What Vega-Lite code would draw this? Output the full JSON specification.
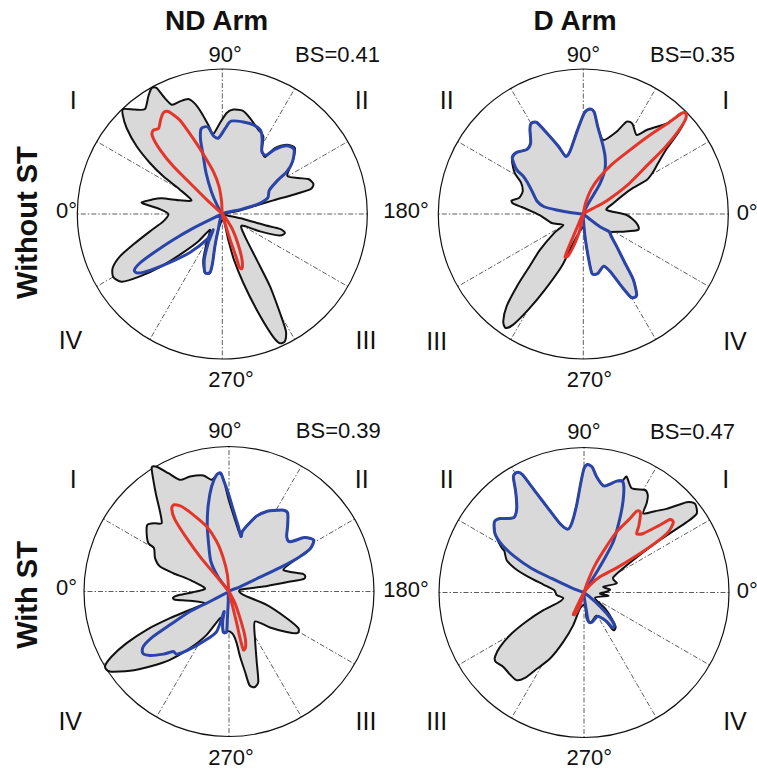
{
"$schema": "https://vega.github.io/schema/vega-lite/v6.json",
"padding": 0,
"spacing": 0,
"config": {"view": {"stroke": null}, "text": {"font": "Liberation Sans"}},
"datasets": {
"spokes": [
{"x":0,"y":0,"ex":1,"ey":0},{"x":0,"y":0,"ex":0.866,"ey":0.5},{"x":0,"y":0,"ex":0.5,"ey":0.866},{"x":0,"y":0,"ex":0,"ey":1},
{"x":0,"y":0,"ex":-0.5,"ey":0.866},{"x":0,"y":0,"ex":-0.866,"ey":0.5},{"x":0,"y":0,"ex":-1,"ey":0},{"x":0,"y":0,"ex":-0.866,"ey":-0.5},
{"x":0,"y":0,"ex":-0.5,"ey":-0.866},{"x":0,"y":0,"ex":0,"ey":-1},{"x":0,"y":0,"ex":0.5,"ey":-0.866},{"x":0,"y":0,"ex":0.866,"ey":-0.5}
],
"ctr": [{"x":0,"y":0}],
"labels": [
{"p":1,"k":"deg","t":"90°","x":0.019,"y":1.046},
{"p":1,"k":"deg","t":"BS=0.41","x":0.795,"y":1.046},
{"p":1,"k":"rom","t":"I","x":-1.028,"y":0.722},
{"p":1,"k":"rom","t":"II","x":0.961,"y":0.722},
{"p":1,"k":"rom","t":"IV","x":-1.047,"y":-0.933},
{"p":1,"k":"rom","t":"III","x":0.991,"y":-0.933},
{"p":1,"k":"deg","t":"0°","x":-1.075,"y":-0.030},
{"p":1,"k":"deg","t":"270°","x":0.060,"y":-1.195},
{"p":1,"k":"title","t":"ND Arm","x":-0.039,"y":1.269},
{"p":1,"k":"rtitle","t":"Without ST","x":-1.280,"y":-0.059},
{"p":2,"k":"deg","t":"90°","x":0.0,"y":1.046},
{"p":2,"k":"deg","t":"BS=0.35","x":0.753,"y":1.046},
{"p":2,"k":"rom","t":"II","x":-0.942,"y":0.722},
{"p":2,"k":"rom","t":"I","x":0.982,"y":0.722},
{"p":2,"k":"rom","t":"III","x":-1.011,"y":-0.938},
{"p":2,"k":"rom","t":"IV","x":1.046,"y":-0.938},
{"p":2,"k":"deg","t":"0°","x":1.130,"y":-0.040},
{"p":2,"k":"deg","t":"180°","x":-1.223,"y":-0.030},
{"p":2,"k":"deg","t":"270°","x":0.042,"y":-1.195},
{"p":2,"k":"title","t":"D Arm","x":-0.057,"y":1.269},
{"p":3,"k":"deg","t":"90°","x":-0.028,"y":1.057},
{"p":3,"k":"deg","t":"BS=0.39","x":0.754,"y":1.057},
{"p":3,"k":"rom","t":"I","x":-1.074,"y":0.712},
{"p":3,"k":"rom","t":"II","x":0.915,"y":0.712},
{"p":3,"k":"rom","t":"IV","x":-1.095,"y":-0.955},
{"p":3,"k":"rom","t":"III","x":0.945,"y":-0.955},
{"p":3,"k":"deg","t":"0°","x":-1.121,"y":-0.024},
{"p":3,"k":"deg","t":"270°","x":0.014,"y":-1.197},
{"p":3,"k":"rtitle","t":"With ST","x":-1.326,"y":-0.024},
{"p":4,"k":"deg","t":"90°","x":0.0,"y":1.057},
{"p":4,"k":"deg","t":"BS=0.47","x":0.748,"y":1.057},
{"p":4,"k":"rom","t":"II","x":-0.947,"y":0.719},
{"p":4,"k":"rom","t":"I","x":0.977,"y":0.719},
{"p":4,"k":"rom","t":"III","x":-1.016,"y":-0.948},
{"p":4,"k":"rom","t":"IV","x":1.041,"y":-0.948},
{"p":4,"k":"deg","t":"0°","x":1.126,"y":-0.036},
{"p":4,"k":"deg","t":"180°","x":-1.228,"y":-0.029},
{"p":4,"k":"deg","t":"270°","x":0.037,"y":-1.190}
],
"curves": [
{"p":1,"s":"g","i":1,"x":-0.556,"y":0.080},{"p":1,"s":"g","i":2,"x":-0.487,"y":0.099},{"p":1,"s":"g","i":3,"x":-0.418,"y":0.108},{"p":1,"s":"g","i":4,"x":-0.292,"y":0.094},{"p":1,"s":"g","i":5,"x":-0.212,"y":0.094},
{"p":1,"s":"g","i":6,"x":-0.292,"y":0.168},{"p":1,"s":"g","i":7,"x":-0.407,"y":0.260},{"p":1,"s":"g","i":8,"x":-0.499,"y":0.352},{"p":1,"s":"g","i":9,"x":-0.591,"y":0.467},{"p":1,"s":"g","i":10,"x":-0.660,"y":0.593},
{"p":1,"s":"g","i":11,"x":-0.687,"y":0.685},{"p":1,"s":"g","i":12,"x":-0.683,"y":0.724},{"p":1,"s":"g","i":13,"x":-0.602,"y":0.720},{"p":1,"s":"g","i":14,"x":-0.533,"y":0.724},{"p":1,"s":"g","i":15,"x":-0.510,"y":0.812},
{"p":1,"s":"g","i":16,"x":-0.487,"y":0.869},{"p":1,"s":"g","i":17,"x":-0.453,"y":0.869},{"p":1,"s":"g","i":18,"x":-0.407,"y":0.812},{"p":1,"s":"g","i":19,"x":-0.349,"y":0.754},{"p":1,"s":"g","i":20,"x":-0.292,"y":0.777},
{"p":1,"s":"g","i":21,"x":-0.235,"y":0.793},{"p":1,"s":"g","i":22,"x":-0.189,"y":0.761},{"p":1,"s":"g","i":23,"x":-0.143,"y":0.697},{"p":1,"s":"g","i":24,"x":-0.097,"y":0.616},{"p":1,"s":"g","i":25,"x":-0.062,"y":0.554},
{"p":1,"s":"g","i":26,"x":-0.016,"y":0.628},{"p":1,"s":"g","i":27,"x":0.030,"y":0.697},{"p":1,"s":"g","i":28,"x":0.076,"y":0.720},{"p":1,"s":"g","i":29,"x":0.140,"y":0.713},{"p":1,"s":"g","i":30,"x":0.191,"y":0.662},
{"p":1,"s":"g","i":31,"x":0.248,"y":0.582},{"p":1,"s":"g","i":32,"x":0.283,"y":0.536},{"p":1,"s":"g","i":33,"x":0.274,"y":0.444},{"p":1,"s":"g","i":34,"x":0.294,"y":0.393},{"p":1,"s":"g","i":35,"x":0.363,"y":0.455},
{"p":1,"s":"g","i":36,"x":0.444,"y":0.478},{"p":1,"s":"g","i":37,"x":0.501,"y":0.455},{"p":1,"s":"g","i":38,"x":0.485,"y":0.363},{"p":1,"s":"g","i":39,"x":0.448,"y":0.264},{"p":1,"s":"g","i":40,"x":0.524,"y":0.248},
{"p":1,"s":"g","i":41,"x":0.593,"y":0.241},{"p":1,"s":"g","i":42,"x":0.628,"y":0.209},{"p":1,"s":"g","i":43,"x":0.609,"y":0.172},{"p":1,"s":"g","i":44,"x":0.490,"y":0.133},{"p":1,"s":"g","i":45,"x":0.352,"y":0.094},
{"p":1,"s":"g","i":46,"x":0.214,"y":0.053},{"p":1,"s":"g","i":47,"x":0.099,"y":0.018},{"p":1,"s":"g","i":48,"x":0,"y":0},{"p":1,"s":"g","i":49,"x":0.145,"y":-0.034},{"p":1,"s":"g","i":50,"x":0.283,"y":-0.074},
{"p":1,"s":"g","i":51,"x":0.398,"y":-0.103},{"p":1,"s":"g","i":52,"x":0.432,"y":-0.131},{"p":1,"s":"g","i":53,"x":0.393,"y":-0.149},{"p":1,"s":"g","i":54,"x":0.260,"y":-0.120},{"p":1,"s":"g","i":55,"x":0.133,"y":-0.080},
{"p":1,"s":"g","i":56,"x":0.156,"y":-0.154},{"p":1,"s":"g","i":57,"x":0.237,"y":-0.315},{"p":1,"s":"g","i":58,"x":0.329,"y":-0.499},{"p":1,"s":"g","i":59,"x":0.398,"y":-0.683},{"p":1,"s":"g","i":60,"x":0.439,"y":-0.809},
{"p":1,"s":"g","i":61,"x":0.432,"y":-0.878},{"p":1,"s":"g","i":62,"x":0.393,"y":-0.890},{"p":1,"s":"g","i":63,"x":0.340,"y":-0.832},{"p":1,"s":"g","i":64,"x":0.237,"y":-0.660},{"p":1,"s":"g","i":65,"x":0.145,"y":-0.476},
{"p":1,"s":"g","i":66,"x":0.080,"y":-0.315},{"p":1,"s":"g","i":67,"x":0.041,"y":-0.177},{"p":1,"s":"g","i":68,"x":0.007,"y":-0.039},{"p":1,"s":"g","i":69,"x":-0.028,"y":-0.108},{"p":1,"s":"g","i":70,"x":-0.051,"y":-0.223},
{"p":1,"s":"g","i":71,"x":-0.067,"y":-0.338},{"p":1,"s":"g","i":72,"x":-0.085,"y":-0.407},{"p":1,"s":"g","i":73,"x":-0.122,"y":-0.402},{"p":1,"s":"g","i":74,"x":-0.131,"y":-0.315},{"p":1,"s":"g","i":75,"x":-0.108,"y":-0.200},
{"p":1,"s":"g","i":76,"x":-0.085,"y":-0.108},{"p":1,"s":"g","i":77,"x":-0.166,"y":-0.189},{"p":1,"s":"g","i":78,"x":-0.292,"y":-0.280},{"p":1,"s":"g","i":79,"x":-0.430,"y":-0.366},{"p":1,"s":"g","i":80,"x":-0.568,"y":-0.430},
{"p":1,"s":"g","i":81,"x":-0.694,"y":-0.467},{"p":1,"s":"g","i":82,"x":-0.752,"y":-0.434},{"p":1,"s":"g","i":83,"x":-0.756,"y":-0.372},{"p":1,"s":"g","i":84,"x":-0.706,"y":-0.292},{"p":1,"s":"g","i":85,"x":-0.614,"y":-0.211},
{"p":1,"s":"g","i":86,"x":-0.499,"y":-0.120},{"p":1,"s":"g","i":87,"x":-0.407,"y":-0.051},{"p":1,"s":"g","i":88,"x":-0.372,"y":0.000},{"p":1,"s":"g","i":89,"x":-0.430,"y":0.034},{"p":1,"s":"g","i":90,"x":-0.522,"y":0.064},

{"p":1,"s":"b","i":1,"x":0,"y":0},{"p":1,"s":"b","i":2,"x":-0.062,"y":-0.028},{"p":1,"s":"b","i":3,"x":-0.200,"y":-0.097},{"p":1,"s":"b","i":4,"x":-0.338,"y":-0.177},{"p":1,"s":"b","i":5,"x":-0.476,"y":-0.269},
{"p":1,"s":"b","i":6,"x":-0.568,"y":-0.338},{"p":1,"s":"b","i":7,"x":-0.607,"y":-0.389},{"p":1,"s":"b","i":8,"x":-0.580,"y":-0.407},{"p":1,"s":"b","i":9,"x":-0.499,"y":-0.389},{"p":1,"s":"b","i":10,"x":-0.361,"y":-0.334},
{"p":1,"s":"b","i":11,"x":-0.223,"y":-0.265},{"p":1,"s":"b","i":12,"x":-0.108,"y":-0.177},{"p":1,"s":"b","i":13,"x":-0.062,"y":-0.108},{"p":1,"s":"b","i":14,"x":-0.097,"y":-0.200},{"p":1,"s":"b","i":15,"x":-0.124,"y":-0.315},
{"p":1,"s":"b","i":16,"x":-0.120,"y":-0.403},{"p":1,"s":"b","i":17,"x":-0.085,"y":-0.403},{"p":1,"s":"b","i":18,"x":-0.067,"y":-0.338},{"p":1,"s":"b","i":19,"x":-0.051,"y":-0.223},{"p":1,"s":"b","i":20,"x":-0.028,"y":-0.108},
{"p":1,"s":"b","i":21,"x":0,"y":0},{"p":1,"s":"b","i":22,"x":0.122,"y":0.030},{"p":1,"s":"b","i":23,"x":0.237,"y":0.064},{"p":1,"s":"b","i":24,"x":0.313,"y":0.110},{"p":1,"s":"b","i":25,"x":0.324,"y":0.163},
{"p":1,"s":"b","i":26,"x":0.380,"y":0.230},{"p":1,"s":"b","i":27,"x":0.445,"y":0.292},{"p":1,"s":"b","i":28,"x":0.485,"y":0.363},{"p":1,"s":"b","i":29,"x":0.495,"y":0.445},{"p":1,"s":"b","i":30,"x":0.444,"y":0.470},
{"p":1,"s":"b","i":31,"x":0.363,"y":0.445},{"p":1,"s":"b","i":32,"x":0.300,"y":0.405},{"p":1,"s":"b","i":33,"x":0.272,"y":0.432},{"p":1,"s":"b","i":34,"x":0.275,"y":0.513},{"p":1,"s":"b","i":35,"x":0.265,"y":0.575},
{"p":1,"s":"b","i":36,"x":0.215,"y":0.615},{"p":1,"s":"b","i":37,"x":0.145,"y":0.635},{"p":1,"s":"b","i":38,"x":0.060,"y":0.640},{"p":1,"s":"b","i":39,"x":0.020,"y":0.590},{"p":1,"s":"b","i":40,"x":-0.025,"y":0.525},
{"p":1,"s":"b","i":41,"x":-0.062,"y":0.540},{"p":1,"s":"b","i":42,"x":-0.100,"y":0.600},{"p":1,"s":"b","i":43,"x":-0.145,"y":0.590},{"p":1,"s":"b","i":44,"x":-0.150,"y":0.513},{"p":1,"s":"b","i":45,"x":-0.131,"y":0.398},
{"p":1,"s":"b","i":46,"x":-0.112,"y":0.283},{"p":1,"s":"b","i":47,"x":-0.074,"y":0.150},{"p":1,"s":"b","i":48,"x":-0.035,"y":0.060},{"p":1,"s":"b","i":49,"x":0,"y":0},

{"p":1,"s":"r","i":1,"x":0,"y":0},{"p":1,"s":"r","i":2,"x":-0.108,"y":0.099},{"p":1,"s":"r","i":3,"x":-0.223,"y":0.214},{"p":1,"s":"r","i":4,"x":-0.338,"y":0.329},{"p":1,"s":"r","i":5,"x":-0.430,"y":0.444},
{"p":1,"s":"r","i":6,"x":-0.483,"y":0.540},{"p":1,"s":"r","i":7,"x":-0.476,"y":0.577},{"p":1,"s":"r","i":8,"x":-0.439,"y":0.591},{"p":1,"s":"r","i":9,"x":-0.425,"y":0.651},{"p":1,"s":"r","i":10,"x":-0.407,"y":0.697},
{"p":1,"s":"r","i":11,"x":-0.380,"y":0.708},{"p":1,"s":"r","i":12,"x":-0.338,"y":0.685},{"p":1,"s":"r","i":13,"x":-0.292,"y":0.646},{"p":1,"s":"r","i":14,"x":-0.235,"y":0.570},{"p":1,"s":"r","i":15,"x":-0.177,"y":0.485},
{"p":1,"s":"r","i":16,"x":-0.115,"y":0.386},{"p":1,"s":"r","i":17,"x":-0.062,"y":0.294},{"p":1,"s":"r","i":18,"x":-0.023,"y":0.191},{"p":1,"s":"r","i":19,"x":-0.005,"y":0.087},{"p":1,"s":"r","i":20,"x":0,"y":0},
{"p":1,"s":"r","i":21,"x":0.025,"y":-0.085},{"p":1,"s":"r","i":22,"x":0.058,"y":-0.189},{"p":1,"s":"r","i":23,"x":0.094,"y":-0.292},{"p":1,"s":"r","i":24,"x":0.117,"y":-0.366},{"p":1,"s":"r","i":25,"x":0.136,"y":-0.375},
{"p":1,"s":"r","i":26,"x":0.136,"y":-0.315},{"p":1,"s":"r","i":27,"x":0.110,"y":-0.212},{"p":1,"s":"r","i":28,"x":0.071,"y":-0.108},{"p":1,"s":"r","i":29,"x":0.030,"y":-0.039},{"p":1,"s":"r","i":30,"x":0,"y":0},

{"p":2,"s":"g","i":1,"x":-0.494,"y":0.094},{"p":2,"s":"g","i":2,"x":-0.444,"y":0.110},{"p":2,"s":"g","i":3,"x":-0.418,"y":0.156},{"p":2,"s":"g","i":4,"x":-0.430,"y":0.218},{"p":2,"s":"g","i":5,"x":-0.471,"y":0.278},
{"p":2,"s":"g","i":6,"x":-0.490,"y":0.352},{"p":2,"s":"g","i":7,"x":-0.490,"y":0.386},{"p":2,"s":"g","i":8,"x":-0.460,"y":0.425},{"p":2,"s":"g","i":9,"x":-0.391,"y":0.444},{"p":2,"s":"g","i":10,"x":-0.363,"y":0.490},
{"p":2,"s":"g","i":11,"x":-0.368,"y":0.582},{"p":2,"s":"g","i":12,"x":-0.361,"y":0.623},{"p":2,"s":"g","i":13,"x":-0.322,"y":0.632},{"p":2,"s":"g","i":14,"x":-0.241,"y":0.547},{"p":2,"s":"g","i":15,"x":-0.172,"y":0.467},
{"p":2,"s":"g","i":16,"x":-0.122,"y":0.398},{"p":2,"s":"g","i":17,"x":-0.092,"y":0.432},{"p":2,"s":"g","i":18,"x":-0.039,"y":0.582},{"p":2,"s":"g","i":19,"x":0.007,"y":0.697},{"p":2,"s":"g","i":20,"x":0.046,"y":0.724},
{"p":2,"s":"g","i":21,"x":0.076,"y":0.701},{"p":2,"s":"g","i":22,"x":0.099,"y":0.605},{"p":2,"s":"g","i":23,"x":0.138,"y":0.510},{"p":2,"s":"g","i":24,"x":0.230,"y":0.568},{"p":2,"s":"g","i":25,"x":0.299,"y":0.637},
{"p":2,"s":"g","i":26,"x":0.340,"y":0.620},{"p":2,"s":"g","i":27,"x":0.368,"y":0.545},{"p":2,"s":"g","i":28,"x":0.437,"y":0.579},{"p":2,"s":"g","i":29,"x":0.517,"y":0.605},{"p":2,"s":"g","i":30,"x":0.586,"y":0.628},
{"p":2,"s":"g","i":31,"x":0.674,"y":0.692},{"p":2,"s":"g","i":32,"x":0.706,"y":0.697},{"p":2,"s":"g","i":33,"x":0.706,"y":0.655},{"p":2,"s":"g","i":34,"x":0.655,"y":0.560},{"p":2,"s":"g","i":35,"x":0.575,"y":0.450},
{"p":2,"s":"g","i":36,"x":0.515,"y":0.350},{"p":2,"s":"g","i":37,"x":0.483,"y":0.292},{"p":2,"s":"g","i":38,"x":0.437,"y":0.234},{"p":2,"s":"g","i":39,"x":0.322,"y":0.166},{"p":2,"s":"g","i":40,"x":0.207,"y":0.074},
{"p":2,"s":"g","i":41,"x":0.161,"y":0.028},{"p":2,"s":"g","i":42,"x":0.299,"y":-0.007},{"p":2,"s":"g","i":43,"x":0.368,"y":-0.064},{"p":2,"s":"g","i":44,"x":0.379,"y":-0.110},{"p":2,"s":"g","i":45,"x":0.276,"y":-0.122},
{"p":2,"s":"g","i":46,"x":0.184,"y":-0.125},{"p":2,"s":"g","i":47,"x":0.191,"y":-0.150},{"p":2,"s":"g","i":48,"x":0.230,"y":-0.223},{"p":2,"s":"g","i":49,"x":0.287,"y":-0.338},{"p":2,"s":"g","i":50,"x":0.345,"y":-0.453},
{"p":2,"s":"g","i":51,"x":0.368,"y":-0.560},{"p":2,"s":"g","i":52,"x":0.330,"y":-0.575},{"p":2,"s":"g","i":53,"x":0.264,"y":-0.499},{"p":2,"s":"g","i":54,"x":0.184,"y":-0.395},{"p":2,"s":"g","i":55,"x":0.140,"y":-0.360},
{"p":2,"s":"g","i":56,"x":0.100,"y":-0.410},{"p":2,"s":"g","i":57,"x":0.060,"y":-0.410},{"p":2,"s":"g","i":58,"x":0.035,"y":-0.300},{"p":2,"s":"g","i":59,"x":0.015,"y":-0.180},{"p":2,"s":"g","i":60,"x":0.002,"y":-0.090},
{"p":2,"s":"g","i":61,"x":-0.030,"y":-0.130},{"p":2,"s":"g","i":62,"x":-0.080,"y":-0.223},{"p":2,"s":"g","i":63,"x":-0.149,"y":-0.361},{"p":2,"s":"g","i":64,"x":-0.264,"y":-0.522},{"p":2,"s":"g","i":65,"x":-0.379,"y":-0.660},
{"p":2,"s":"g","i":66,"x":-0.483,"y":-0.763},{"p":2,"s":"g","i":67,"x":-0.536,"y":-0.786},{"p":2,"s":"g","i":68,"x":-0.552,"y":-0.740},{"p":2,"s":"g","i":69,"x":-0.529,"y":-0.637},{"p":2,"s":"g","i":70,"x":-0.459,"y":-0.501},
{"p":2,"s":"g","i":71,"x":-0.370,"y":-0.360},{"p":2,"s":"g","i":72,"x":-0.299,"y":-0.248},{"p":2,"s":"g","i":73,"x":-0.200,"y":-0.130},{"p":2,"s":"g","i":74,"x":-0.138,"y":-0.076},{"p":2,"s":"g","i":75,"x":-0.218,"y":-0.062},
{"p":2,"s":"g","i":76,"x":-0.287,"y":-0.016},{"p":2,"s":"g","i":77,"x":-0.356,"y":0.018},{"p":2,"s":"g","i":78,"x":-0.425,"y":0.048},{"p":2,"s":"g","i":79,"x":-0.483,"y":0.071},

{"p":2,"s":"b","i":1,"x":0,"y":0},{"p":2,"s":"b","i":2,"x":-0.080,"y":0.009},{"p":2,"s":"b","i":3,"x":-0.183,"y":0.028},{"p":2,"s":"b","i":4,"x":-0.270,"y":0.050},{"p":2,"s":"b","i":5,"x":-0.320,"y":0.090},
{"p":2,"s":"b","i":6,"x":-0.350,"y":0.150},{"p":2,"s":"b","i":7,"x":-0.384,"y":0.215},{"p":2,"s":"b","i":8,"x":-0.414,"y":0.260},{"p":2,"s":"b","i":9,"x":-0.460,"y":0.306},{"p":2,"s":"b","i":10,"x":-0.490,"y":0.386},
{"p":2,"s":"b","i":11,"x":-0.460,"y":0.425},{"p":2,"s":"b","i":12,"x":-0.391,"y":0.444},{"p":2,"s":"b","i":13,"x":-0.363,"y":0.490},{"p":2,"s":"b","i":14,"x":-0.368,"y":0.582},{"p":2,"s":"b","i":15,"x":-0.361,"y":0.623},
{"p":2,"s":"b","i":16,"x":-0.322,"y":0.632},{"p":2,"s":"b","i":17,"x":-0.241,"y":0.547},{"p":2,"s":"b","i":18,"x":-0.172,"y":0.467},{"p":2,"s":"b","i":19,"x":-0.122,"y":0.398},{"p":2,"s":"b","i":20,"x":-0.092,"y":0.432},
{"p":2,"s":"b","i":21,"x":-0.039,"y":0.582},{"p":2,"s":"b","i":22,"x":0.007,"y":0.697},{"p":2,"s":"b","i":23,"x":0.046,"y":0.724},{"p":2,"s":"b","i":24,"x":0.076,"y":0.701},{"p":2,"s":"b","i":25,"x":0.099,"y":0.605},
{"p":2,"s":"b","i":26,"x":0.131,"y":0.490},{"p":2,"s":"b","i":27,"x":0.150,"y":0.398},{"p":2,"s":"b","i":28,"x":0.149,"y":0.306},{"p":2,"s":"b","i":29,"x":0.115,"y":0.210},{"p":2,"s":"b","i":30,"x":0.069,"y":0.130},
{"p":2,"s":"b","i":31,"x":0.025,"y":0.055},{"p":2,"s":"b","i":32,"x":0,"y":0},{"p":2,"s":"b","i":33,"x":0.005,"y":-0.090},{"p":2,"s":"b","i":34,"x":0.015,"y":-0.180},{"p":2,"s":"b","i":35,"x":0.035,"y":-0.300},
{"p":2,"s":"b","i":36,"x":0.060,"y":-0.410},{"p":2,"s":"b","i":37,"x":0.100,"y":-0.410},{"p":2,"s":"b","i":38,"x":0.140,"y":-0.360},{"p":2,"s":"b","i":39,"x":0.184,"y":-0.395},{"p":2,"s":"b","i":40,"x":0.264,"y":-0.499},
{"p":2,"s":"b","i":41,"x":0.330,"y":-0.575},{"p":2,"s":"b","i":42,"x":0.368,"y":-0.560},{"p":2,"s":"b","i":43,"x":0.345,"y":-0.453},{"p":2,"s":"b","i":44,"x":0.287,"y":-0.338},{"p":2,"s":"b","i":45,"x":0.230,"y":-0.223},
{"p":2,"s":"b","i":46,"x":0.191,"y":-0.150},{"p":2,"s":"b","i":47,"x":0.184,"y":-0.125},{"p":2,"s":"b","i":48,"x":0.115,"y":-0.088},{"p":2,"s":"b","i":49,"x":0.050,"y":-0.040},{"p":2,"s":"b","i":50,"x":0,"y":0},

{"p":2,"s":"r","i":1,"x":0,"y":0},{"p":2,"s":"r","i":2,"x":0.016,"y":0.076},{"p":2,"s":"r","i":3,"x":0.053,"y":0.168},{"p":2,"s":"r","i":4,"x":0.108,"y":0.248},{"p":2,"s":"r","i":5,"x":0.195,"y":0.340},
{"p":2,"s":"r","i":6,"x":0.310,"y":0.432},{"p":2,"s":"r","i":7,"x":0.448,"y":0.536},{"p":2,"s":"r","i":8,"x":0.586,"y":0.628},{"p":2,"s":"r","i":9,"x":0.674,"y":0.692},{"p":2,"s":"r","i":10,"x":0.706,"y":0.697},
{"p":2,"s":"r","i":11,"x":0.706,"y":0.655},{"p":2,"s":"r","i":12,"x":0.650,"y":0.565},{"p":2,"s":"r","i":13,"x":0.560,"y":0.455},{"p":2,"s":"r","i":14,"x":0.440,"y":0.335},{"p":2,"s":"r","i":15,"x":0.300,"y":0.195},
{"p":2,"s":"r","i":16,"x":0.160,"y":0.090},{"p":2,"s":"r","i":17,"x":0.060,"y":0.035},{"p":2,"s":"r","i":18,"x":0,"y":0},{"p":2,"s":"r","i":19,"x":-0.030,"y":-0.062},{"p":2,"s":"r","i":20,"x":-0.069,"y":-0.154},
{"p":2,"s":"r","i":21,"x":-0.108,"y":-0.246},{"p":2,"s":"r","i":22,"x":-0.126,"y":-0.297},{"p":2,"s":"r","i":23,"x":-0.103,"y":-0.287},{"p":2,"s":"r","i":24,"x":-0.057,"y":-0.200},{"p":2,"s":"r","i":25,"x":-0.023,"y":-0.108},
{"p":2,"s":"r","i":26,"x":0,"y":0},

{"p":3,"s":"g","i":1,"x":-0.384,"y":-0.041},{"p":3,"s":"g","i":2,"x":-0.338,"y":-0.023},{"p":3,"s":"g","i":3,"x":-0.166,"y":0.018},{"p":3,"s":"g","i":4,"x":-0.269,"y":0.080},{"p":3,"s":"g","i":5,"x":-0.384,"y":0.126},
{"p":3,"s":"g","i":6,"x":-0.476,"y":0.172},{"p":3,"s":"g","i":7,"x":-0.510,"y":0.230},{"p":3,"s":"g","i":8,"x":-0.517,"y":0.299},{"p":3,"s":"g","i":9,"x":-0.556,"y":0.333},{"p":3,"s":"g","i":10,"x":-0.568,"y":0.402},
{"p":3,"s":"g","i":11,"x":-0.563,"y":0.460},{"p":3,"s":"g","i":12,"x":-0.510,"y":0.471},{"p":3,"s":"g","i":13,"x":-0.464,"y":0.471},{"p":3,"s":"g","i":14,"x":-0.476,"y":0.552},{"p":3,"s":"g","i":15,"x":-0.503,"y":0.667},
{"p":3,"s":"g","i":16,"x":-0.522,"y":0.770},{"p":3,"s":"g","i":17,"x":-0.533,"y":0.855},{"p":3,"s":"g","i":18,"x":-0.499,"y":0.860},{"p":3,"s":"g","i":19,"x":-0.418,"y":0.816},{"p":3,"s":"g","i":20,"x":-0.338,"y":0.770},
{"p":3,"s":"g","i":21,"x":-0.269,"y":0.793},{"p":3,"s":"g","i":22,"x":-0.177,"y":0.800},{"p":3,"s":"g","i":23,"x":-0.120,"y":0.770},{"p":3,"s":"g","i":24,"x":-0.085,"y":0.805},{"p":3,"s":"g","i":25,"x":-0.057,"y":0.816},
{"p":3,"s":"g","i":26,"x":-0.034,"y":0.759},{"p":3,"s":"g","i":27,"x":-0.005,"y":0.644},{"p":3,"s":"g","i":28,"x":0.030,"y":0.529},{"p":3,"s":"g","i":29,"x":0.064,"y":0.425},{"p":3,"s":"g","i":30,"x":0.083,"y":0.379},
{"p":3,"s":"g","i":31,"x":0.092,"y":0.414},{"p":3,"s":"g","i":32,"x":0.130,"y":0.460},{"p":3,"s":"g","i":33,"x":0.190,"y":0.520},{"p":3,"s":"g","i":34,"x":0.260,"y":0.552},{"p":3,"s":"g","i":35,"x":0.330,"y":0.560},
{"p":3,"s":"g","i":36,"x":0.378,"y":0.560},{"p":3,"s":"g","i":37,"x":0.405,"y":0.540},{"p":3,"s":"g","i":38,"x":0.405,"y":0.460},{"p":3,"s":"g","i":39,"x":0.398,"y":0.378},{"p":3,"s":"g","i":40,"x":0.421,"y":0.343},
{"p":3,"s":"g","i":41,"x":0.520,"y":0.372},{"p":3,"s":"g","i":42,"x":0.584,"y":0.355},{"p":3,"s":"g","i":43,"x":0.560,"y":0.295},{"p":3,"s":"g","i":44,"x":0.480,"y":0.235},{"p":3,"s":"g","i":45,"x":0.375,"y":0.149},
{"p":3,"s":"g","i":46,"x":0.513,"y":0.120},{"p":3,"s":"g","i":47,"x":0.517,"y":0.087},{"p":3,"s":"g","i":48,"x":0.398,"y":0.064},{"p":3,"s":"g","i":49,"x":0.237,"y":0.034},{"p":3,"s":"g","i":50,"x":0.076,"y":0.011},
{"p":3,"s":"g","i":51,"x":0.099,"y":-0.023},{"p":3,"s":"g","i":52,"x":0.260,"y":-0.092},{"p":3,"s":"g","i":53,"x":0.398,"y":-0.184},{"p":3,"s":"g","i":54,"x":0.478,"y":-0.253},{"p":3,"s":"g","i":55,"x":0.471,"y":-0.287},
{"p":3,"s":"g","i":56,"x":0.398,"y":-0.280},{"p":3,"s":"g","i":57,"x":0.283,"y":-0.248},{"p":3,"s":"g","i":58,"x":0.179,"y":-0.207},{"p":3,"s":"g","i":59,"x":0.179,"y":-0.322},{"p":3,"s":"g","i":60,"x":0.191,"y":-0.483},
{"p":3,"s":"g","i":61,"x":0.202,"y":-0.621},{"p":3,"s":"g","i":62,"x":0.175,"y":-0.660},{"p":3,"s":"g","i":63,"x":0.140,"y":-0.644},{"p":3,"s":"g","i":64,"x":0.110,"y":-0.552},{"p":3,"s":"g","i":65,"x":0.076,"y":-0.448},
{"p":3,"s":"g","i":66,"x":0.053,"y":-0.356},{"p":3,"s":"g","i":67,"x":0.030,"y":-0.299},{"p":3,"s":"g","i":68,"x":0.007,"y":-0.276},{"p":3,"s":"g","i":69,"x":-0.016,"y":-0.276},{"p":3,"s":"g","i":70,"x":-0.039,"y":-0.280},
{"p":3,"s":"g","i":71,"x":-0.044,"y":-0.207},{"p":3,"s":"g","i":72,"x":-0.062,"y":-0.184},{"p":3,"s":"g","i":73,"x":-0.154,"y":-0.299},{"p":3,"s":"g","i":74,"x":-0.269,"y":-0.391},{"p":3,"s":"g","i":75,"x":-0.407,"y":-0.471},
{"p":3,"s":"g","i":76,"x":-0.545,"y":-0.517},{"p":3,"s":"g","i":77,"x":-0.683,"y":-0.547},{"p":3,"s":"g","i":78,"x":-0.821,"y":-0.552},{"p":3,"s":"g","i":79,"x":-0.855,"y":-0.517},{"p":3,"s":"g","i":80,"x":-0.809,"y":-0.448},
{"p":3,"s":"g","i":81,"x":-0.706,"y":-0.356},{"p":3,"s":"g","i":82,"x":-0.568,"y":-0.264},{"p":3,"s":"g","i":83,"x":-0.407,"y":-0.184},{"p":3,"s":"g","i":84,"x":-0.269,"y":-0.126},{"p":3,"s":"g","i":85,"x":-0.166,"y":-0.080},
{"p":3,"s":"g","i":86,"x":-0.269,"y":-0.064},{"p":3,"s":"g","i":87,"x":-0.372,"y":-0.057},

{"p":3,"s":"b","i":1,"x":0,"y":0},{"p":3,"s":"b","i":2,"x":-0.075,"y":0.100},{"p":3,"s":"b","i":3,"x":-0.125,"y":0.207},{"p":3,"s":"b","i":4,"x":-0.140,"y":0.322},{"p":3,"s":"b","i":5,"x":-0.150,"y":0.460},
{"p":3,"s":"b","i":6,"x":-0.143,"y":0.598},{"p":3,"s":"b","i":7,"x":-0.120,"y":0.724},{"p":3,"s":"b","i":8,"x":-0.085,"y":0.805},{"p":3,"s":"b","i":9,"x":-0.057,"y":0.816},{"p":3,"s":"b","i":10,"x":-0.034,"y":0.759},
{"p":3,"s":"b","i":11,"x":-0.005,"y":0.680},{"p":3,"s":"b","i":12,"x":0.030,"y":0.560},{"p":3,"s":"b","i":13,"x":0.064,"y":0.450},{"p":3,"s":"b","i":14,"x":0.083,"y":0.379},{"p":3,"s":"b","i":15,"x":0.092,"y":0.414},
{"p":3,"s":"b","i":16,"x":0.130,"y":0.460},{"p":3,"s":"b","i":17,"x":0.190,"y":0.520},{"p":3,"s":"b","i":18,"x":0.260,"y":0.552},{"p":3,"s":"b","i":19,"x":0.330,"y":0.560},{"p":3,"s":"b","i":20,"x":0.378,"y":0.560},
{"p":3,"s":"b","i":21,"x":0.405,"y":0.540},{"p":3,"s":"b","i":22,"x":0.405,"y":0.460},{"p":3,"s":"b","i":23,"x":0.398,"y":0.378},{"p":3,"s":"b","i":24,"x":0.421,"y":0.343},{"p":3,"s":"b","i":25,"x":0.520,"y":0.372},
{"p":3,"s":"b","i":26,"x":0.584,"y":0.355},{"p":3,"s":"b","i":27,"x":0.560,"y":0.295},{"p":3,"s":"b","i":28,"x":0.480,"y":0.235},{"p":3,"s":"b","i":29,"x":0.352,"y":0.165},{"p":3,"s":"b","i":30,"x":0.191,"y":0.088},
{"p":3,"s":"b","i":31,"x":0.076,"y":0.032},{"p":3,"s":"b","i":32,"x":0,"y":0},{"p":3,"s":"b","i":33,"x":-0.005,"y":-0.069},{"p":3,"s":"b","i":34,"x":-0.011,"y":-0.184},{"p":3,"s":"b","i":35,"x":-0.016,"y":-0.276},
{"p":3,"s":"b","i":36,"x":-0.039,"y":-0.280},{"p":3,"s":"b","i":37,"x":-0.044,"y":-0.207},{"p":3,"s":"b","i":38,"x":-0.034,"y":-0.138},{"p":3,"s":"b","i":39,"x":-0.085,"y":-0.276},{"p":3,"s":"b","i":40,"x":-0.177,"y":-0.345},
{"p":3,"s":"b","i":41,"x":-0.280,"y":-0.402},{"p":3,"s":"b","i":42,"x":-0.361,"y":-0.432},{"p":3,"s":"b","i":43,"x":-0.384,"y":-0.414},{"p":3,"s":"b","i":44,"x":-0.453,"y":-0.432},{"p":3,"s":"b","i":45,"x":-0.545,"y":-0.441},
{"p":3,"s":"b","i":46,"x":-0.595,"y":-0.425},{"p":3,"s":"b","i":47,"x":-0.591,"y":-0.379},{"p":3,"s":"b","i":48,"x":-0.522,"y":-0.310},{"p":3,"s":"b","i":49,"x":-0.407,"y":-0.230},{"p":3,"s":"b","i":50,"x":-0.269,"y":-0.138},
{"p":3,"s":"b","i":51,"x":-0.131,"y":-0.069},{"p":3,"s":"b","i":52,"x":0,"y":0},

{"p":3,"s":"r","i":1,"x":0,"y":0},{"p":3,"s":"r","i":2,"x":-0.085,"y":0.103},{"p":3,"s":"r","i":3,"x":-0.200,"y":0.241},{"p":3,"s":"r","i":4,"x":-0.292,"y":0.368},{"p":3,"s":"r","i":5,"x":-0.372,"y":0.494},
{"p":3,"s":"r","i":6,"x":-0.395,"y":0.570},{"p":3,"s":"r","i":7,"x":-0.379,"y":0.598},{"p":3,"s":"r","i":8,"x":-0.326,"y":0.586},{"p":3,"s":"r","i":9,"x":-0.246,"y":0.529},{"p":3,"s":"r","i":10,"x":-0.154,"y":0.448},
{"p":3,"s":"r","i":11,"x":-0.085,"y":0.345},{"p":3,"s":"r","i":12,"x":-0.039,"y":0.230},{"p":3,"s":"r","i":13,"x":-0.011,"y":0.115},{"p":3,"s":"r","i":14,"x":0,"y":0},{"p":3,"s":"r","i":15,"x":0.025,"y":-0.103},
{"p":3,"s":"r","i":16,"x":0.053,"y":-0.218},{"p":3,"s":"r","i":17,"x":0.076,"y":-0.322},{"p":3,"s":"r","i":18,"x":0.099,"y":-0.402},{"p":3,"s":"r","i":19,"x":0.115,"y":-0.379},{"p":3,"s":"r","i":20,"x":0.108,"y":-0.299},
{"p":3,"s":"r","i":21,"x":0.076,"y":-0.184},{"p":3,"s":"r","i":22,"x":0.041,"y":-0.080},{"p":3,"s":"r","i":23,"x":0,"y":0},

{"p":4,"s":"g","i":1,"x":-0.205,"y":0.016},{"p":4,"s":"g","i":2,"x":-0.280,"y":0.055},{"p":4,"s":"g","i":3,"x":-0.384,"y":0.108},{"p":4,"s":"g","i":4,"x":-0.476,"y":0.166},{"p":4,"s":"g","i":5,"x":-0.533,"y":0.223},
{"p":4,"s":"g","i":6,"x":-0.549,"y":0.285},{"p":4,"s":"g","i":7,"x":-0.572,"y":0.315},{"p":4,"s":"g","i":8,"x":-0.614,"y":0.407},{"p":4,"s":"g","i":9,"x":-0.618,"y":0.487},{"p":4,"s":"g","i":10,"x":-0.579,"y":0.510},
{"p":4,"s":"g","i":11,"x":-0.487,"y":0.515},{"p":4,"s":"g","i":12,"x":-0.464,"y":0.579},{"p":4,"s":"g","i":13,"x":-0.471,"y":0.694},{"p":4,"s":"g","i":14,"x":-0.487,"y":0.798},{"p":4,"s":"g","i":15,"x":-0.464,"y":0.828},
{"p":4,"s":"g","i":16,"x":-0.425,"y":0.814},{"p":4,"s":"g","i":17,"x":-0.338,"y":0.699},{"p":4,"s":"g","i":18,"x":-0.246,"y":0.579},{"p":4,"s":"g","i":19,"x":-0.166,"y":0.476},{"p":4,"s":"g","i":20,"x":-0.113,"y":0.437},
{"p":4,"s":"g","i":21,"x":-0.085,"y":0.476},{"p":4,"s":"g","i":22,"x":-0.051,"y":0.602},{"p":4,"s":"g","i":23,"x":-0.023,"y":0.752},{"p":4,"s":"g","i":24,"x":0,"y":0.855},{"p":4,"s":"g","i":25,"x":0.025,"y":0.883},
{"p":4,"s":"g","i":26,"x":0.057,"y":0.864},{"p":4,"s":"g","i":27,"x":0.087,"y":0.798},{"p":4,"s":"g","i":28,"x":0.133,"y":0.736},{"p":4,"s":"g","i":29,"x":0.172,"y":0.745},{"p":4,"s":"g","i":30,"x":0.225,"y":0.768},
{"p":4,"s":"g","i":31,"x":0.264,"y":0.768},{"p":4,"s":"g","i":32,"x":0.294,"y":0.799},{"p":4,"s":"g","i":33,"x":0.329,"y":0.719},{"p":4,"s":"g","i":34,"x":0.421,"y":0.707},{"p":4,"s":"g","i":35,"x":0.440,"y":0.670},
{"p":4,"s":"g","i":36,"x":0.432,"y":0.615},{"p":4,"s":"g","i":37,"x":0.409,"y":0.545},{"p":4,"s":"g","i":38,"x":0.490,"y":0.561},{"p":4,"s":"g","i":39,"x":0.570,"y":0.577},{"p":4,"s":"g","i":40,"x":0.708,"y":0.623},
{"p":4,"s":"g","i":41,"x":0.766,"y":0.611},{"p":4,"s":"g","i":42,"x":0.777,"y":0.543},{"p":4,"s":"g","i":43,"x":0.708,"y":0.485},{"p":4,"s":"g","i":44,"x":0.524,"y":0.362},{"p":4,"s":"g","i":45,"x":0.340,"y":0.224},
{"p":4,"s":"g","i":46,"x":0.202,"y":0.105},{"p":4,"s":"g","i":47,"x":0.225,"y":0.063},{"p":4,"s":"g","i":48,"x":0.133,"y":0.040},{"p":4,"s":"g","i":49,"x":0.179,"y":0.020},{"p":4,"s":"g","i":50,"x":0.156,"y":0.005},
{"p":4,"s":"g","i":51,"x":0.110,"y":-0.007},{"p":4,"s":"g","i":52,"x":0.168,"y":-0.023},{"p":4,"s":"g","i":53,"x":0.076,"y":-0.037},{"p":4,"s":"g","i":54,"x":0.145,"y":-0.110},{"p":4,"s":"g","i":55,"x":0.191,"y":-0.179},
{"p":4,"s":"g","i":56,"x":0.218,"y":-0.237},{"p":4,"s":"g","i":57,"x":0.202,"y":-0.260},{"p":4,"s":"g","i":58,"x":0.145,"y":-0.191},{"p":4,"s":"g","i":59,"x":0.087,"y":-0.161},{"p":4,"s":"g","i":60,"x":0.048,"y":-0.205},
{"p":4,"s":"g","i":61,"x":0.018,"y":-0.179},{"p":4,"s":"g","i":62,"x":0.007,"y":-0.087},{"p":4,"s":"g","i":63,"x":-0.028,"y":-0.110},{"p":4,"s":"g","i":64,"x":-0.074,"y":-0.225},{"p":4,"s":"g","i":65,"x":-0.143,"y":-0.340},
{"p":4,"s":"g","i":66,"x":-0.234,"y":-0.455},{"p":4,"s":"g","i":67,"x":-0.338,"y":-0.536},{"p":4,"s":"g","i":68,"x":-0.407,"y":-0.589},{"p":4,"s":"g","i":69,"x":-0.464,"y":-0.605},{"p":4,"s":"g","i":70,"x":-0.510,"y":-0.566},
{"p":4,"s":"g","i":71,"x":-0.556,"y":-0.513},{"p":4,"s":"g","i":72,"x":-0.609,"y":-0.478},{"p":4,"s":"g","i":73,"x":-0.614,"y":-0.444},{"p":4,"s":"g","i":74,"x":-0.579,"y":-0.375},{"p":4,"s":"g","i":75,"x":-0.499,"y":-0.283},
{"p":4,"s":"g","i":76,"x":-0.395,"y":-0.198},{"p":4,"s":"g","i":77,"x":-0.280,"y":-0.122},{"p":4,"s":"g","i":78,"x":-0.177,"y":-0.069},{"p":4,"s":"g","i":79,"x":-0.143,"y":-0.037},{"p":4,"s":"g","i":80,"x":-0.189,"y":-0.018},

{"p":4,"s":"b","i":1,"x":0,"y":0},{"p":4,"s":"b","i":2,"x":-0.085,"y":0.032},{"p":4,"s":"b","i":3,"x":-0.223,"y":0.097},{"p":4,"s":"b","i":4,"x":-0.361,"y":0.166},{"p":4,"s":"b","i":5,"x":-0.476,"y":0.246},
{"p":4,"s":"b","i":6,"x":-0.563,"y":0.326},{"p":4,"s":"b","i":7,"x":-0.614,"y":0.407},{"p":4,"s":"b","i":8,"x":-0.618,"y":0.487},{"p":4,"s":"b","i":9,"x":-0.579,"y":0.510},{"p":4,"s":"b","i":10,"x":-0.487,"y":0.515},
{"p":4,"s":"b","i":11,"x":-0.464,"y":0.579},{"p":4,"s":"b","i":12,"x":-0.471,"y":0.694},{"p":4,"s":"b","i":13,"x":-0.487,"y":0.798},{"p":4,"s":"b","i":14,"x":-0.464,"y":0.828},{"p":4,"s":"b","i":15,"x":-0.425,"y":0.814},
{"p":4,"s":"b","i":16,"x":-0.338,"y":0.699},{"p":4,"s":"b","i":17,"x":-0.246,"y":0.579},{"p":4,"s":"b","i":18,"x":-0.166,"y":0.476},{"p":4,"s":"b","i":19,"x":-0.113,"y":0.437},{"p":4,"s":"b","i":20,"x":-0.085,"y":0.476},
{"p":4,"s":"b","i":21,"x":-0.051,"y":0.602},{"p":4,"s":"b","i":22,"x":-0.023,"y":0.752},{"p":4,"s":"b","i":23,"x":0,"y":0.855},{"p":4,"s":"b","i":24,"x":0.025,"y":0.883},{"p":4,"s":"b","i":25,"x":0.057,"y":0.864},
{"p":4,"s":"b","i":26,"x":0.087,"y":0.798},{"p":4,"s":"b","i":27,"x":0.133,"y":0.736},{"p":4,"s":"b","i":28,"x":0.172,"y":0.745},{"p":4,"s":"b","i":29,"x":0.225,"y":0.768},{"p":4,"s":"b","i":30,"x":0.264,"y":0.768},
{"p":4,"s":"b","i":31,"x":0.275,"y":0.717},{"p":4,"s":"b","i":32,"x":0.265,"y":0.600},{"p":4,"s":"b","i":33,"x":0.240,"y":0.480},{"p":4,"s":"b","i":34,"x":0.202,"y":0.350},{"p":4,"s":"b","i":35,"x":0.145,"y":0.240},
{"p":4,"s":"b","i":36,"x":0.087,"y":0.140},{"p":4,"s":"b","i":37,"x":0.037,"y":0.060},{"p":4,"s":"b","i":38,"x":0,"y":0},{"p":4,"s":"b","i":39,"x":0.012,"y":-0.098},{"p":4,"s":"b","i":40,"x":0.030,"y":-0.200},
{"p":4,"s":"b","i":41,"x":0.055,"y":-0.205},{"p":4,"s":"b","i":42,"x":0.095,"y":-0.166},{"p":4,"s":"b","i":43,"x":0.150,"y":-0.195},{"p":4,"s":"b","i":44,"x":0.195,"y":-0.240},{"p":4,"s":"b","i":45,"x":0.210,"y":-0.225},
{"p":4,"s":"b","i":46,"x":0.165,"y":-0.155},{"p":4,"s":"b","i":47,"x":0.100,"y":-0.085},{"p":4,"s":"b","i":48,"x":0.045,"y":-0.035},{"p":4,"s":"b","i":49,"x":0,"y":0},

{"p":4,"s":"r","i":1,"x":0,"y":0},{"p":4,"s":"r","i":2,"x":0.025,"y":0.074},{"p":4,"s":"r","i":3,"x":0.076,"y":0.189},{"p":4,"s":"r","i":4,"x":0.145,"y":0.303},{"p":4,"s":"r","i":5,"x":0.225,"y":0.418},
{"p":4,"s":"r","i":6,"x":0.306,"y":0.499},{"p":4,"s":"r","i":7,"x":0.363,"y":0.561},{"p":4,"s":"r","i":8,"x":0.389,"y":0.552},{"p":4,"s":"r","i":9,"x":0.379,"y":0.464},{"p":4,"s":"r","i":10,"x":0.363,"y":0.405},
{"p":4,"s":"r","i":11,"x":0.409,"y":0.407},{"p":4,"s":"r","i":12,"x":0.513,"y":0.460},{"p":4,"s":"r","i":13,"x":0.593,"y":0.503},{"p":4,"s":"r","i":14,"x":0.616,"y":0.483},{"p":4,"s":"r","i":15,"x":0.582,"y":0.418},
{"p":4,"s":"r","i":16,"x":0.501,"y":0.349},{"p":4,"s":"r","i":17,"x":0.375,"y":0.262},{"p":4,"s":"r","i":18,"x":0.237,"y":0.177},{"p":4,"s":"r","i":19,"x":0.110,"y":0.108},{"p":4,"s":"r","i":20,"x":0.041,"y":0.051},
{"p":4,"s":"r","i":21,"x":0,"y":0},{"p":4,"s":"r","i":22,"x":-0.028,"y":-0.053},{"p":4,"s":"r","i":23,"x":-0.055,"y":-0.110},{"p":4,"s":"r","i":24,"x":-0.074,"y":-0.152},{"p":4,"s":"r","i":25,"x":-0.057,"y":-0.145},
{"p":4,"s":"r","i":26,"x":-0.028,"y":-0.087},{"p":4,"s":"r","i":27,"x":0,"y":0}
]
},
"vconcat": [
{"hconcat": [
{"width": 400, "height": 400,
 "encoding": {"x": {"field": "x", "type": "quantitative", "scale": {"domain": [-1.5331, 1.2255], "nice": false, "zero": false}, "axis": null},
              "y": {"field": "y", "type": "quantitative", "scale": {"domain": [-1.2828, 1.4759], "nice": false, "zero": false}, "axis": null}},
 "layer": [
  {"data": {"name": "spokes"}, "mark": {"type": "rule", "strokeDash": [5, 2, 1.5, 2], "strokeWidth": 0.8, "color": "#333"}, "encoding": {"x2": {"field": "ex"}, "y2": {"field": "ey"}}},
  {"data": {"name": "ctr"}, "mark": {"type": "point", "shape": "circle", "size": 84100, "filled": false, "color": "#111", "strokeWidth": 1.2, "opacity": 1}},
  {"data": {"name": "curves"}, "transform": [{"filter": "datum.p == 1 && datum.s == 'g'"}], "mark": {"type": "line", "interpolate": "cardinal-closed", "tension": 0.3, "fill": "#d9d9d9", "stroke": "#111", "strokeWidth": 2}, "encoding": {"order": {"field": "i", "type": "quantitative"}}},
  {"data": {"name": "curves"}, "transform": [{"filter": "datum.p == 1 && datum.s == 'b'"}], "mark": {"type": "line", "interpolate": "cardinal", "tension": 0.3, "stroke": "#2b44a8", "strokeWidth": 3}, "encoding": {"order": {"field": "i", "type": "quantitative"}}},
  {"data": {"name": "curves"}, "transform": [{"filter": "datum.p == 1 && datum.s == 'r'"}], "mark": {"type": "line", "interpolate": "cardinal", "tension": 0.3, "stroke": "#e4352b", "strokeWidth": 3}, "encoding": {"order": {"field": "i", "type": "quantitative"}}},
  {"data": {"name": "labels"}, "transform": [{"filter": "datum.p == 1 && datum.k == 'deg'"}], "mark": {"type": "text", "fontSize": 22, "align": "center", "baseline": "alphabetic", "color": "#111"}, "encoding": {"text": {"field": "t"}}},
  {"data": {"name": "labels"}, "transform": [{"filter": "datum.p == 1 && datum.k == 'rom'"}], "mark": {"type": "text", "fontSize": 25, "align": "center", "baseline": "alphabetic", "color": "#111"}, "encoding": {"text": {"field": "t"}}},
  {"data": {"name": "labels"}, "transform": [{"filter": "datum.p == 1 && datum.k == 'title'"}], "mark": {"type": "text", "fontSize": 28, "fontWeight": "bold", "align": "center", "baseline": "alphabetic", "color": "#111"}, "encoding": {"text": {"field": "t"}}},
  {"data": {"name": "labels"}, "transform": [{"filter": "datum.p == 1 && datum.k == 'rtitle'"}], "mark": {"type": "text", "fontSize": 29, "fontWeight": "bold", "align": "center", "baseline": "alphabetic", "angle": 270, "color": "#111"}, "encoding": {"text": {"field": "t"}}}
 ]},
{"width": 357, "height": 400,
 "encoding": {"x": {"field": "x", "type": "quantitative", "scale": {"domain": [-1.2641, 1.1979], "nice": false, "zero": false}, "axis": null},
              "y": {"field": "y", "type": "quantitative", "scale": {"domain": [-1.2828, 1.4759], "nice": false, "zero": false}, "axis": null}},
 "layer": [
  {"data": {"name": "spokes"}, "mark": {"type": "rule", "strokeDash": [5, 2, 1.5, 2], "strokeWidth": 0.8, "color": "#333"}, "encoding": {"x2": {"field": "ex"}, "y2": {"field": "ey"}}},
  {"data": {"name": "ctr"}, "mark": {"type": "point", "shape": "circle", "size": 84100, "filled": false, "color": "#111", "strokeWidth": 1.2, "opacity": 1}},
  {"data": {"name": "curves"}, "transform": [{"filter": "datum.p == 2 && datum.s == 'g'"}], "mark": {"type": "line", "interpolate": "cardinal-closed", "tension": 0.3, "fill": "#d9d9d9", "stroke": "#111", "strokeWidth": 2}, "encoding": {"order": {"field": "i", "type": "quantitative"}}},
  {"data": {"name": "curves"}, "transform": [{"filter": "datum.p == 2 && datum.s == 'b'"}], "mark": {"type": "line", "interpolate": "cardinal", "tension": 0.3, "stroke": "#2b44a8", "strokeWidth": 3}, "encoding": {"order": {"field": "i", "type": "quantitative"}}},
  {"data": {"name": "curves"}, "transform": [{"filter": "datum.p == 2 && datum.s == 'r'"}], "mark": {"type": "line", "interpolate": "cardinal", "tension": 0.3, "stroke": "#e4352b", "strokeWidth": 3}, "encoding": {"order": {"field": "i", "type": "quantitative"}}},
  {"data": {"name": "labels"}, "transform": [{"filter": "datum.p == 2 && datum.k == 'deg'"}], "mark": {"type": "text", "fontSize": 22, "align": "center", "baseline": "alphabetic", "color": "#111"}, "encoding": {"text": {"field": "t"}}},
  {"data": {"name": "labels"}, "transform": [{"filter": "datum.p == 2 && datum.k == 'rom'"}], "mark": {"type": "text", "fontSize": 25, "align": "center", "baseline": "alphabetic", "color": "#111"}, "encoding": {"text": {"field": "t"}}},
  {"data": {"name": "labels"}, "transform": [{"filter": "datum.p == 2 && datum.k == 'title'"}], "mark": {"type": "text", "fontSize": 28, "fontWeight": "bold", "align": "center", "baseline": "alphabetic", "color": "#111"}, "encoding": {"text": {"field": "t"}}}
 ]}
], "spacing": 0, "bounds": "flush"},
{"hconcat": [
{"width": 400, "height": 371,
 "encoding": {"x": {"field": "x", "type": "quantitative", "scale": {"domain": [-1.5793, 1.1793], "nice": false, "zero": false}, "axis": null},
              "y": {"field": "y", "type": "quantitative", "scale": {"domain": [-1.2379, 1.3207], "nice": false, "zero": false}, "axis": null}},
 "layer": [
  {"data": {"name": "spokes"}, "mark": {"type": "rule", "strokeDash": [5, 2, 1.5, 2], "strokeWidth": 0.8, "color": "#333"}, "encoding": {"x2": {"field": "ex"}, "y2": {"field": "ey"}}},
  {"data": {"name": "ctr"}, "mark": {"type": "point", "shape": "circle", "size": 84100, "filled": false, "color": "#111", "strokeWidth": 1.2, "opacity": 1}},
  {"data": {"name": "curves"}, "transform": [{"filter": "datum.p == 3 && datum.s == 'g'"}], "mark": {"type": "line", "interpolate": "cardinal-closed", "tension": 0.3, "fill": "#d9d9d9", "stroke": "#111", "strokeWidth": 2}, "encoding": {"order": {"field": "i", "type": "quantitative"}}},
  {"data": {"name": "curves"}, "transform": [{"filter": "datum.p == 3 && datum.s == 'b'"}], "mark": {"type": "line", "interpolate": "cardinal", "tension": 0.3, "stroke": "#2b44a8", "strokeWidth": 3}, "encoding": {"order": {"field": "i", "type": "quantitative"}}},
  {"data": {"name": "curves"}, "transform": [{"filter": "datum.p == 3 && datum.s == 'r'"}], "mark": {"type": "line", "interpolate": "cardinal", "tension": 0.3, "stroke": "#e4352b", "strokeWidth": 3}, "encoding": {"order": {"field": "i", "type": "quantitative"}}},
  {"data": {"name": "labels"}, "transform": [{"filter": "datum.p == 3 && datum.k == 'deg'"}], "mark": {"type": "text", "fontSize": 22, "align": "center", "baseline": "alphabetic", "color": "#111"}, "encoding": {"text": {"field": "t"}}},
  {"data": {"name": "labels"}, "transform": [{"filter": "datum.p == 3 && datum.k == 'rom'"}], "mark": {"type": "text", "fontSize": 25, "align": "center", "baseline": "alphabetic", "color": "#111"}, "encoding": {"text": {"field": "t"}}},
  {"data": {"name": "labels"}, "transform": [{"filter": "datum.p == 3 && datum.k == 'rtitle'"}], "mark": {"type": "text", "fontSize": 29, "fontWeight": "bold", "align": "center", "baseline": "alphabetic", "angle": 270, "color": "#111"}, "encoding": {"text": {"field": "t"}}}
 ]},
{"width": 357, "height": 371,
 "encoding": {"x": {"field": "x", "type": "quantitative", "scale": {"domain": [-1.2690, 1.1931], "nice": false, "zero": false}, "axis": null},
              "y": {"field": "y", "type": "quantitative", "scale": {"domain": [-1.2310, 1.3276], "nice": false, "zero": false}, "axis": null}},
 "layer": [
  {"data": {"name": "spokes"}, "mark": {"type": "rule", "strokeDash": [5, 2, 1.5, 2], "strokeWidth": 0.8, "color": "#333"}, "encoding": {"x2": {"field": "ex"}, "y2": {"field": "ey"}}},
  {"data": {"name": "ctr"}, "mark": {"type": "point", "shape": "circle", "size": 84100, "filled": false, "color": "#111", "strokeWidth": 1.2, "opacity": 1}},
  {"data": {"name": "curves"}, "transform": [{"filter": "datum.p == 4 && datum.s == 'g'"}], "mark": {"type": "line", "interpolate": "cardinal-closed", "tension": 0.3, "fill": "#d9d9d9", "stroke": "#111", "strokeWidth": 2}, "encoding": {"order": {"field": "i", "type": "quantitative"}}},
  {"data": {"name": "curves"}, "transform": [{"filter": "datum.p == 4 && datum.s == 'b'"}], "mark": {"type": "line", "interpolate": "cardinal", "tension": 0.3, "stroke": "#2b44a8", "strokeWidth": 3}, "encoding": {"order": {"field": "i", "type": "quantitative"}}},
  {"data": {"name": "curves"}, "transform": [{"filter": "datum.p == 4 && datum.s == 'r'"}], "mark": {"type": "line", "interpolate": "cardinal", "tension": 0.3, "stroke": "#e4352b", "strokeWidth": 3}, "encoding": {"order": {"field": "i", "type": "quantitative"}}},
  {"data": {"name": "labels"}, "transform": [{"filter": "datum.p == 4 && datum.k == 'deg'"}], "mark": {"type": "text", "fontSize": 22, "align": "center", "baseline": "alphabetic", "color": "#111"}, "encoding": {"text": {"field": "t"}}},
  {"data": {"name": "labels"}, "transform": [{"filter": "datum.p == 4 && datum.k == 'rom'"}], "mark": {"type": "text", "fontSize": 25, "align": "center", "baseline": "alphabetic", "color": "#111"}, "encoding": {"text": {"field": "t"}}}
 ]}
], "spacing": 0, "bounds": "flush"}
]
}
